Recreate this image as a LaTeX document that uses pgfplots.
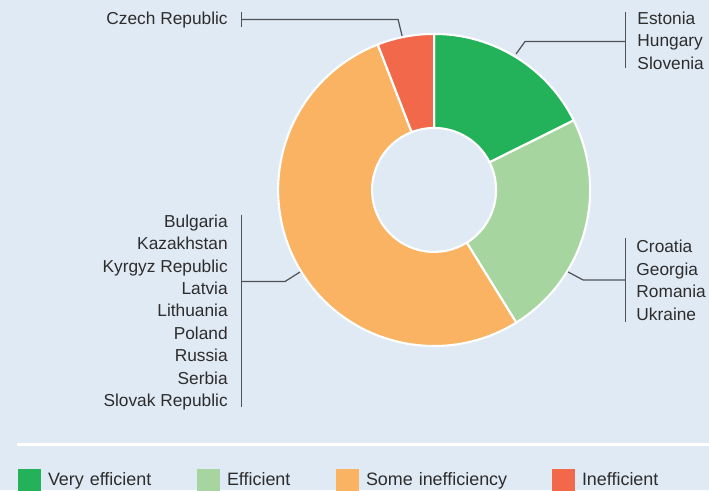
\documentclass[border=0pt]{standalone}
\usepackage{fontspec}
\setmainfont{Liberation Sans}
\usepackage{pgfplots}
\usepackage{pgfplotstable}
\pgfplotsset{compat=1.18}

\definecolor{bgc}{HTML}{E0EAF5}
\definecolor{vgreen}{HTML}{23B25A}
\definecolor{lgreen}{HTML}{A7D5A0}
\definecolor{orng}{HTML}{FAB263}
\definecolor{rred}{HTML}{F1684A}
\definecolor{leader}{HTML}{4F5358}
\definecolor{txt}{HTML}{2D2D2D}

% number of countries in each group
\pgfplotstableread{
group count
VeryEfficient 3
Efficient 4
SomeInefficiency 9
Inefficient 1
}\donutdata

\pgfplotstablegetelem{0}{count}\of\donutdata \let\nA\pgfplotsretval
\pgfplotstablegetelem{1}{count}\of\donutdata \let\nB\pgfplotsretval
\pgfplotstablegetelem{2}{count}\of\donutdata \let\nC\pgfplotsretval
\pgfplotstablegetelem{3}{count}\of\donutdata \let\nD\pgfplotsretval
\pgfmathsetmacro\total{\nA+\nB+\nC+\nD}
\pgfmathsetmacro\aA{90}
\pgfmathsetmacro\aB{\aA-360*\nA/\total}
\pgfmathsetmacro\aC{\aB-360*\nB/\total}
\pgfmathsetmacro\aD{\aC-360*\nC/\total}
\pgfmathsetmacro\aE{\aD-360*\nD/\total}

% ring segment: start angle, end angle, colour (centre 434,190; radii 156 and 62 px)
\newcommand\seg[3]{%
  \fill[#3, draw=white, line width=1.2pt]
    (axis cs:{434+156*cos(#1)},{190-156*sin(#1)})
    arc[start angle=#1, end angle=#2, radius=3.12cm]
    -- (axis cs:{434+62*cos(#2)},{190-62*sin(#2)})
    arc[start angle=#2, end angle=#1, radius=1.24cm] -- cycle;}

\newcommand\lab{\fontsize{9.85}{12.75}\selectfont}

\begin{document}
\begin{tikzpicture}
\path[use as bounding box] (0,0) rectangle (14.18,9.8);
\clip (0,0) rectangle (14.18,9.8);
\fill[bgc] (0,0) rectangle (14.18,9.8);
\begin{axis}[
    at={(0,0)}, anchor=south west,
    hide axis, scale only axis,
    x=0.02cm, y=0.02cm,
    xmin=0, xmax=709, ymin=0, ymax=490,
    y dir=reverse,
    clip=false,
    legend columns=4,
    legend image code/.code={\fill[#1, draw=none] (0cm,-0.23cm) rectangle (0.46cm,0.23cm);},
    legend cell align=left,
    legend style={at={(axis cs:18,480.5)}, anchor=west,
        draw=none, fill=none, inner sep=0pt, outer sep=0pt,
        font=\fontsize{10.2}{12}\selectfont, text=txt,
        nodes={inner sep=0pt},
        /tikz/every odd column/.append style={column sep=0.14cm},
        /tikz/every even column/.append style={column sep=0cm}},
]
\seg{\aA}{\aB}{vgreen}
\seg{\aB}{\aC}{lgreen}
\seg{\aC}{\aD}{orng}
\seg{\aD}{\aE}{rred}

% leader lines
\draw[leader, line width=0.7pt] (axis cs:241.5,12) -- (axis cs:241.5,27);
\draw[leader, line width=0.7pt] (axis cs:241.5,19.5) -- (axis cs:398,19.5) -- (axis cs:402,36);
\draw[leader, line width=0.7pt] (axis cs:625.5,12) -- (axis cs:625.5,68);
\draw[leader, line width=0.7pt] (axis cs:625.5,41.5) -- (axis cs:525,41.5) -- (axis cs:516,54);
\draw[leader, line width=0.7pt] (axis cs:625,238) -- (axis cs:625,322);
\draw[leader, line width=0.7pt] (axis cs:625,280) -- (axis cs:583,280) -- (axis cs:568,272);
\draw[leader, line width=0.7pt] (axis cs:241.5,215) -- (axis cs:241.5,407);
\draw[leader, line width=0.7pt] (axis cs:241.5,281.5) -- (axis cs:285,281.5) -- (axis cs:300,272);

% country labels
\node[anchor=north east, align=right, inner sep=0pt, font=\lab, text=txt]
  at (axis cs:228,11.5) {Czech Republic};
\node[anchor=north west, align=left, inner sep=0pt, font=\lab, text=txt]
  at (axis cs:637,11.5) {Estonia\\Hungary\\Slovenia};
\node[anchor=north west, align=left, inner sep=0pt, font=\lab, text=txt]
  at (axis cs:636,240) {Croatia\\Georgia\\Romania\\Ukraine};
\node[anchor=north east, align=right, inner sep=0pt, font=\lab, text=txt]
  at (axis cs:228,214.5) {Bulgaria\\Kazakhstan\\Kyrgyz Republic\\Latvia\\Lithuania\\Poland\\Russia\\Serbia\\Slovak Republic};

% separator above legend
\draw[white, line width=1.3pt] (axis cs:17,444.5) -- (axis cs:709,444.5);

\addlegendimage{fill=vgreen}
\addlegendentry[text width=2.98cm, align=left]{Very efficient}
\addlegendimage{fill=lgreen}
\addlegendentry[text width=2.18cm, align=left]{Efficient}
\addlegendimage{fill=orng}
\addlegendentry[text width=3.72cm, align=left]{Some inefficiency}
\addlegendimage{fill=rred}
\addlegendentry[align=left]{Inefficient}
\end{axis}
\end{tikzpicture}
\end{document}
